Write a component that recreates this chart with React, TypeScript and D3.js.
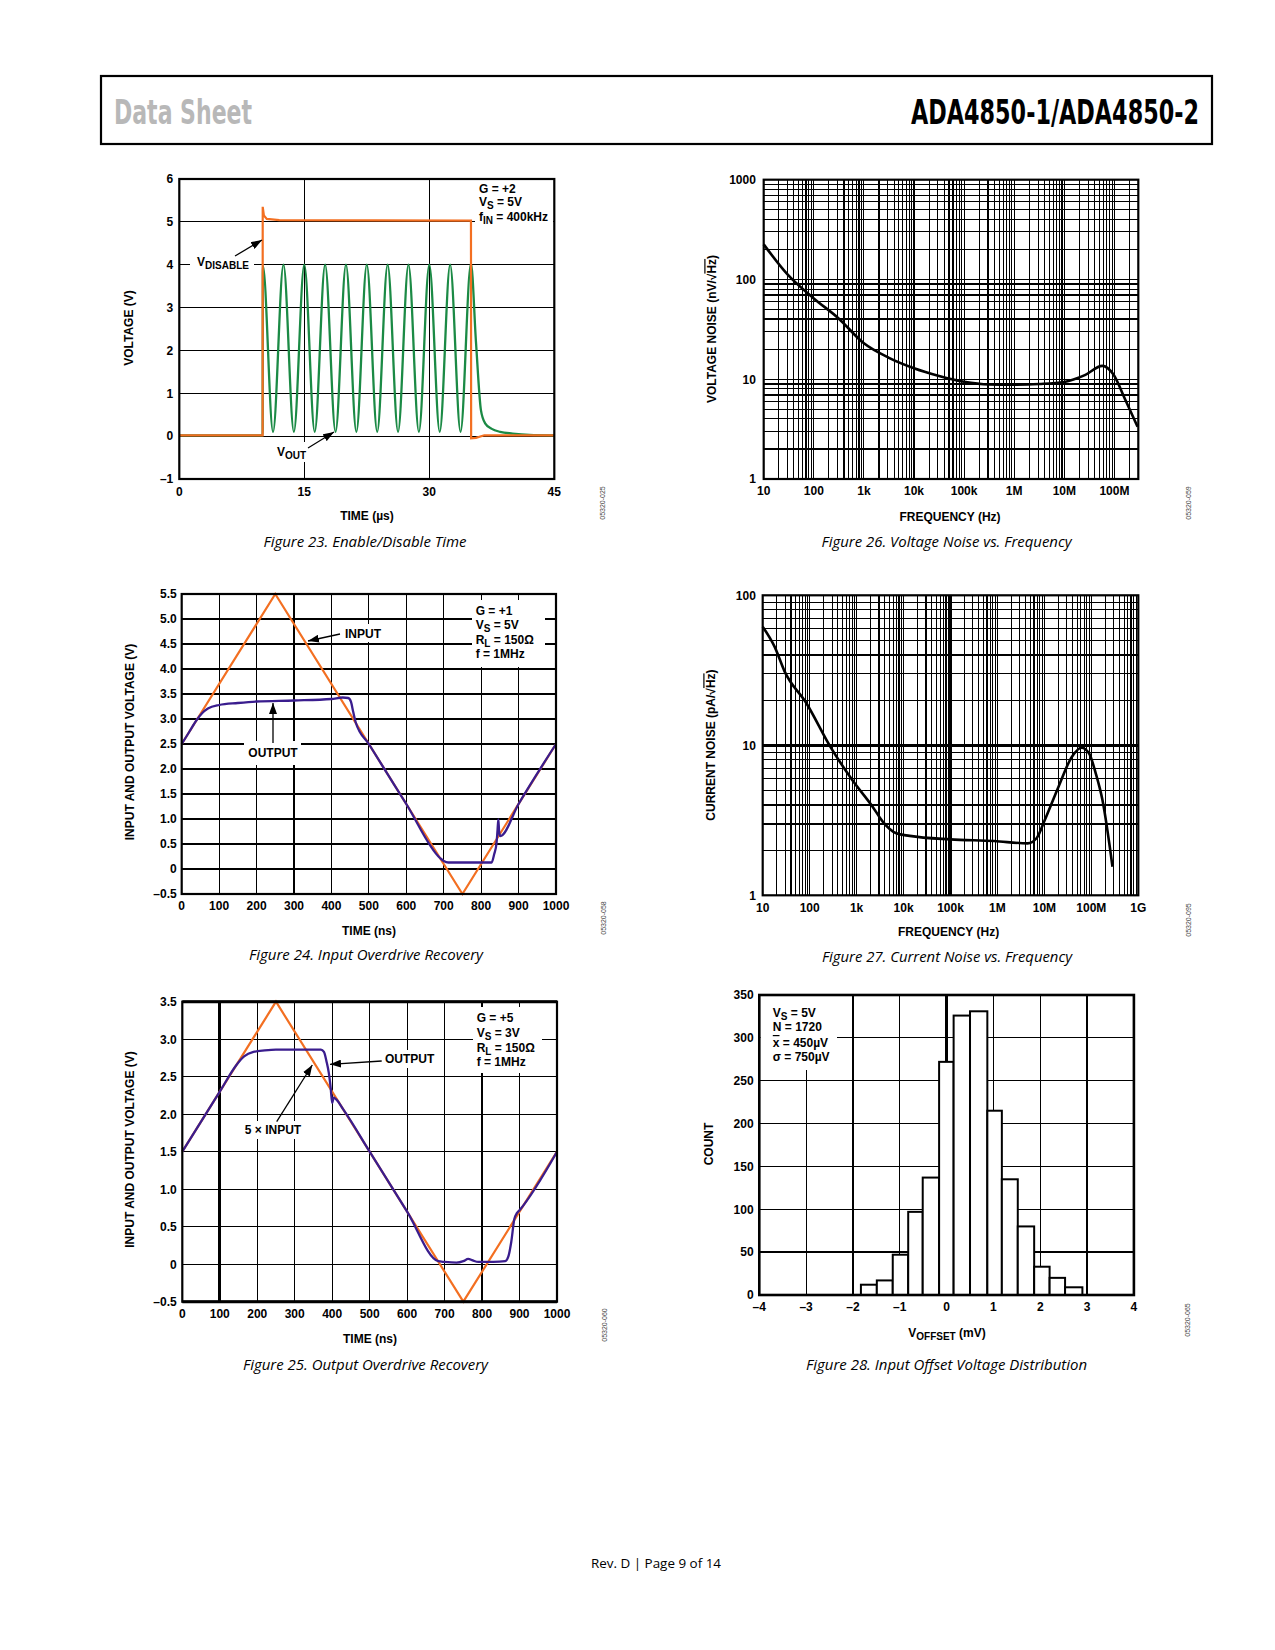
import * as d3 from "d3";
import { useLayoutEffect, useRef, useState } from "react";
import type { ReactNode } from "react";

type Pt = [number, number];
type Sc = d3.ScaleLinear<number, number> | d3.ScaleLogarithmic<number, number>;

const FONT = "'Liberation Sans', Arial, Helvetica, sans-serif";
const CAP_FONT = "'Open Sans', 'Noto Sans', sans-serif";
const ORANGE = "#f36f21";
const GREEN = "#1b8a45";
const PURPLE = "#3a1d8e";

// Figure 23 - enable/disable time
const f23VoltTicks = [-1, 0, 1, 2, 3, 4, 5, 6];
const f23VoltLabels = ["–1", "0", "1", "2", "3", "4", "5", "6"];
const f23TimeTicks = [0, 15, 30, 45];
const f23TimeGrid = [15, 30];
const f23Disable: Pt[] = [
  [0, 0.02], [10, 0.02], [10.01, 5.35], [10.15, 5.15], [10.5, 5.07], [12, 5.04],
  [35, 5.03], [35.02, -0.05], [35.6, -0.04], [36.6, 0.02], [45, 0.02],
];
const f23Vout: Pt[] = [
  [0, 0.02], [10, 0.02], [10.03, 3.98], [11.25, 0.1], [12.5, 4.0], [13.75, 0.1],
  [15, 4.0], [16.25, 0.1], [17.5, 4.0], [18.75, 0.1], [20, 4.0], [21.25, 0.1],
  [22.5, 4.0], [23.75, 0.1], [25, 4.0], [26.25, 0.1], [27.5, 4.0], [28.75, 0.1],
  [30, 4.0], [31.25, 0.1], [32.5, 4.0], [33.75, 0.1], [35, 4.03], [35.6, 2.2],
  [36.2, 0.6], [36.7, 0.3], [37.5, 0.17], [38.5, 0.1], [40, 0.06], [42, 0.03], [45, 0.02],
];

// Figure 24 - input overdrive recovery
const f24VoltTicks = [-0.5, 0, 0.5, 1, 1.5, 2, 2.5, 3, 3.5, 4, 4.5, 5, 5.5];
const f24VoltLabels = ["–0.5", "0", "0.5", "1.0", "1.5", "2.0", "2.5", "3.0", "3.5", "4.0", "4.5", "5.0", "5.5"];
const f24TimeTicks = [0, 100, 200, 300, 400, 500, 600, 700, 800, 900, 1000];
const f24Input: Pt[] = [[0, 2.5], [250, 5.5], [750, -0.5], [1000, 2.5]];
const f24Output: Pt[] = [
  [0, 2.5], [20, 2.74], [40, 2.98], [55, 3.12], [70, 3.21], [100, 3.28], [150, 3.32],
  [200, 3.35], [300, 3.37], [400, 3.4], [430, 3.43], [445, 3.42], [452, 3.35], [458, 3.15],
  [465, 2.93], [500, 2.5], [600, 1.3], [690, 0.22], [700, 0.16], [712, 0.13], [760, 0.13],
  [828, 0.13], [835, 0.3], [841, 0.51], [844, 0.8], [846, 0.99], [848, 0.75], [851, 0.66],
  [900, 1.3], [1000, 2.5],
];

// Figure 25 - output overdrive recovery
const f25VoltTicks = [-0.5, 0, 0.5, 1, 1.5, 2, 2.5, 3, 3.5];
const f25VoltLabels = ["–0.5", "0", "0.5", "1.0", "1.5", "2.0", "2.5", "3.0", "3.5"];
const f25TimeTicks = [0, 100, 200, 300, 400, 500, 600, 700, 800, 900, 1000];
const f25Input: Pt[] = [[0, 1.5], [250, 3.5], [750, -0.5], [1000, 1.5]];
const f25Output: Pt[] = [
  [0, 1.5], [50, 1.9], [100, 2.3], [145, 2.66], [165, 2.77], [190, 2.83], [220, 2.85],
  [250, 2.86], [300, 2.86], [370, 2.86], [378, 2.83], [385, 2.7], [391, 2.55], [396, 2.35],
  [400, 2.15], [404, 2.22], [410, 2.2], [430, 2.06], [500, 1.5], [600, 0.7], [683, 0.04],
  [700, 0.03], [732, 0.02], [750, 0.04], [763, 0.07], [775, 0.05], [790, 0.03], [830, 0.03],
  [862, 0.04], [870, 0.1], [878, 0.3], [886, 0.6], [893, 0.68], [900, 0.72], [1000, 1.5],
];

// Figure 26 - voltage noise
const f26FreqTicks = [10, 100, 1e3, 1e4, 1e5, 1e6, 1e7, 1e8];
const f26FreqLabels = ["10", "100", "1k", "10k", "100k", "1M", "10M", "100M"];
const f26NoiseTicks = [1, 10, 100, 1000];
const f26Freq = [10, 30.5, 100, 313, 1e3, 3160, 1e4, 3.16e4, 1e5, 3.16e5, 1e6, 3.16e6, 1e7, 2.57e7, 5.75e7, 9.5e7, 1.66e8, 2.9e8];
const f26Noise = [225, 111, 64.6, 40.7, 22.9, 16.4, 12.9, 10.8, 9.44, 8.87, 8.8, 8.95, 9.4, 11.0, 13.6, 11.2, 6.2, 3.34];

// Figure 27 - current noise
const f27FreqTicks = [10, 100, 1e3, 1e4, 1e5, 1e6, 1e7, 1e8, 1e9];
const f27FreqLabels = ["10", "100", "1k", "10k", "100k", "1M", "10M", "100M", "1G"];
const f27NoiseTicks = [1, 10, 100];
const f27Freq = [10, 17.9, 29.4, 86, 275, 809, 2190, 3600, 7000, 13500, 99000, 852000, 4.4e6, 6.8e6, 1.02e7, 2e7, 3.86e7, 6.17e7, 8.9e7, 1.24e8, 1.72e8, 2.82e8];
const f27Noise = [61.8, 45.5, 31.0, 19.0, 9.8, 5.87, 3.9, 3.1, 2.59, 2.49, 2.36, 2.3, 2.22, 2.4, 3.18, 5.3, 8.4, 9.64, 8.85, 6.5, 4.33, 1.55];

// Figure 28 - offset histogram
const f28Edges = [-1.83, -1.49, -1.15, -0.82, -0.51, -0.16, 0.15, 0.5, 0.87, 1.18, 1.52, 1.87, 2.2, 2.53, 2.9];
const f28Counts = [12, 17, 47, 97, 137, 272, 326, 331, 215, 135, 80, 33, 20, 9];
const f28XTicks = [-4, -3, -2, -1, 0, 1, 2, 3, 4];
const f28XLabels = ["–4", "–3", "–2", "–1", "0", "1", "2", "3", "4"];
const f28YTicks = [0, 50, 100, 150, 200, 250, 300, 350];

function Grid({
  x, y, xs, ys, boldX = [], boldY = [], thin = 1.2, bold = 2.2,
}: {
  x: Sc; y: Sc; xs: number[]; ys: number[];
  boldX?: number[]; boldY?: number[]; thin?: number; bold?: number;
}) {
  const [xa, xb] = x.range();
  const [ya, yb] = y.range();
  const isBold = (list: number[], v: number) => list.some((b) => Math.abs(b - v) < 1e-9 * Math.abs(v) + 1e-9);
  return (
    <g stroke="#000" shapeRendering="crispEdges">
      {xs.map((v) => (
        <line key={`gx${v}`} x1={x(v)} x2={x(v)} y1={ya} y2={yb} strokeWidth={isBold(boldX, v) ? bold : thin} />
      ))}
      {ys.map((v) => (
        <line key={`gy${v}`} x1={xa} x2={xb} y1={y(v)} y2={y(v)} strokeWidth={isBold(boldY, v) ? bold : thin} />
      ))}
    </g>
  );
}

function Border({ x, y, w = 2.2 }: { x: Sc; y: Sc; w?: number }) {
  const [xa, xb] = x.range();
  const [ya, yb] = y.range();
  return <rect x={xa} y={yb} width={xb - xa} height={ya - yb} fill="none" stroke="#000" strokeWidth={w} />;
}

function YLabels({ y, ticks, labels, right }: { y: Sc; ticks: number[]; labels: string[]; right: number }) {
  return (
    <g fontFamily={FONT} fontWeight={700} fontSize={12} textAnchor="end">
      {ticks.map((t, i) => (
        <text key={t} x={right} y={y(t) + 4.3}>{labels[i]}</text>
      ))}
    </g>
  );
}

function XLabels({ x, ticks, labels, cy }: { x: Sc; ticks: number[]; labels: string[]; cy: number }) {
  return (
    <g fontFamily={FONT} fontWeight={700} fontSize={12} textAnchor="middle">
      {ticks.map((t, i) => (
        <text key={t} x={x(t)} y={cy + 4.3}>{labels[i]}</text>
      ))}
    </g>
  );
}

function YTitle({ cx, cy, children }: { cx: number; cy: number; children: ReactNode }) {
  return (
    <text transform={`translate(${cx + 4.3},${cy}) rotate(-90)`} textAnchor="middle"
      fontFamily={FONT} fontWeight={700} fontSize={12}>{children}</text>
  );
}

function XTitle({ cx, cy, children }: { cx: number; cy: number; children: ReactNode }) {
  return (
    <text x={cx} y={cy + 4.3} textAnchor="middle" fontFamily={FONT} fontWeight={700} fontSize={12}>{children}</text>
  );
}

function Caption({ cx, cy, w, children }: { cx: number; cy: number; w: number; children: string }) {
  return (
    <text x={cx} y={cy + 5} textAnchor="middle" fontFamily={CAP_FONT} fontStyle="italic"
      fontSize={14.5} textLength={w} lengthAdjust="spacingAndGlyphs">{children}</text>
  );
}

function Code({ cx, cy, label }: { cx: number; cy: number; label: string }) {
  return (
    <text transform={`translate(${cx + 2.5},${cy}) rotate(-90)`} textAnchor="middle"
      fontFamily={FONT} fontSize={7} fill="#444">{label}</text>
  );
}

function Sub({ x, y, a, s, b = "" }: { x: number; y: number; a: string; s: string; b?: string }) {
  return (
    <text x={x} y={y} fontFamily={FONT} fontWeight={700} fontSize={12}>
      {a}<tspan dy={3} fontSize={10}>{s}</tspan><tspan dy={-3}>{b}</tspan>
    </text>
  );
}

function Plain({ x, y, children, anchor = "start" }: { x: number; y: number; children: ReactNode; anchor?: string }) {
  return (
    <text x={x} y={y} fontFamily={FONT} fontWeight={700} fontSize={12} textAnchor={anchor}>{children}</text>
  );
}

function Arrow({ x1, y1, x2, y2 }: { x1: number; y1: number; x2: number; y2: number }) {
  return <line x1={x1} y1={y1} x2={x2} y2={y2} stroke="#000" strokeWidth={1.3} markerEnd="url(#ah)" />;
}

// squeezes a heading to a given width with a horizontal scale instead of textLength
function FitText({ x, y, w, fill, children }: { x: number; y: number; w: number; fill: string; children: string }) {
  const ref = useRef<SVGTextElement>(null);
  const [sx, setSx] = useState(0.75);
  useLayoutEffect(() => {
    const el = ref.current;
    if (!el) return;
    const len = el.getComputedTextLength();
    if (len > 0) setSx(w / len);
  }, [w, children]);
  return (
    <text ref={ref} transform={`translate(${x},${y}) scale(${sx},1)`}
      fontFamily="'Liberation Sans Narrow', 'DejaVu Sans Condensed', 'Liberation Sans', sans-serif"
      fontWeight={700} fontSize={34} fill={fill}>{children}</text>
  );
}

function Fig23() {
  const x = d3.scaleLinear().domain([0, 45]).range([179.3, 554.3]);
  const y = d3.scaleLinear().domain([-1, 6]).range([479, 179]);
  const straight = d3.line<Pt>().x((d) => x(d[0])).y((d) => y(d[1]));
  const smooth = d3.line<Pt>().x((d) => x(d[0])).y((d) => y(d[1])).curve(d3.curveMonotoneX);
  return (
    <g>
      <Grid x={x} y={y} xs={f23TimeGrid} ys={f23VoltTicks} />
      <rect x={475} y={181} width={78} height={45} fill="#fff" />
      <rect x={190} y={257} width={64} height={15} fill="#fff" />
      <rect x={275} y={442} width={36} height={20} fill="#fff" />
      <path d={smooth(f23Vout) ?? ""} fill="none" stroke={GREEN} strokeWidth={2.3} />
      <path d={straight(f23Disable) ?? ""} fill="none" stroke={ORANGE} strokeWidth={2.2} />
      <Border x={x} y={y} />
      <Plain x={479} y={192.6}>G = +2</Plain>
      <Sub x={479} y={206} a="V" s="S" b=" = 5V" />
      <Sub x={479} y={221} a="f" s="IN" b=" = 400kHz" />
      <Sub x={197} y={266} a="V" s="DISABLE" />
      <Arrow x1={235} y1={256} x2={262} y2={240} />
      <Sub x={277} y={456} a="V" s="OUT" />
      <Arrow x1={308} y1={448} x2={334} y2={432} />
      <YLabels y={y} ticks={f23VoltTicks} labels={f23VoltLabels} right={173.3} />
      <XLabels x={x} ticks={f23TimeTicks} labels={f23TimeTicks.map(String)} cy={492} />
      <YTitle cx={129} cy={328}>VOLTAGE (V)</YTitle>
      <XTitle cx={367} cy={516}>TIME (µs)</XTitle>
      <Caption cx={365} cy={541.7} w={203}>Figure 23. Enable/Disable Time</Caption>
      <Code cx={602} cy={503} label="05320-025" />
    </g>
  );
}

function Fig24() {
  const x = d3.scaleLinear().domain([0, 1000]).range([181.7, 556]);
  const y = d3.scaleLinear().domain([-0.5, 5.5]).range([894, 594]);
  const straight = d3.line<Pt>().x((d) => x(d[0])).y((d) => y(d[1]));
  const smooth = d3.line<Pt>().x((d) => x(d[0])).y((d) => y(d[1])).curve(d3.curveMonotoneX);
  return (
    <g>
      <Grid x={x} y={y} xs={f24TimeTicks} ys={f24VoltTicks} boldY={[0, 0.5, 1, 1.5, 2]} />
      <rect x={472} y={600} width={73} height={67} fill="#fff" />
      <rect x={342} y={624} width={44} height={18} fill="#fff" />
      <rect x={244} y={741} width={57} height={24} fill="#fff" />
      <path d={straight(f24Input) ?? ""} fill="none" stroke={ORANGE} strokeWidth={2.2} />
      <path d={smooth(f24Output) ?? ""} fill="none" stroke={PURPLE} strokeWidth={2.3} />
      <Border x={x} y={y} />
      <Plain x={475.7} y={615}>G = +1</Plain>
      <Sub x={475.7} y={629.3} a="V" s="S" b=" = 5V" />
      <Sub x={475.7} y={644.3} a="R" s="L" b=" = 150Ω" />
      <Plain x={475.7} y={657.6}>f = 1MHz</Plain>
      <Plain x={345} y={637.6}>INPUT</Plain>
      <Arrow x1={340} y1={634} x2={308} y2={641} />
      <Plain x={273} y={757.3} anchor="middle">OUTPUT</Plain>
      <Arrow x1={273} y1={743} x2={273} y2={703} />
      <YLabels y={y} ticks={f24VoltTicks} labels={f24VoltLabels} right={176.7} />
      <XLabels x={x} ticks={f24TimeTicks} labels={f24TimeTicks.map(String)} cy={906} />
      <YTitle cx={130} cy={742}>INPUT AND OUTPUT VOLTAGE (V)</YTitle>
      <XTitle cx={369} cy={930.7}>TIME (ns)</XTitle>
      <Caption cx={366} cy={955} w={234}>Figure 24. Input Overdrive Recovery</Caption>
      <Code cx={603} cy={918} label="05320-058" />
    </g>
  );
}

function Fig25() {
  const x = d3.scaleLinear().domain([0, 1000]).range([182.3, 557]);
  const y = d3.scaleLinear().domain([-0.5, 3.5]).range([1301.7, 1001.7]);
  const straight = d3.line<Pt>().x((d) => x(d[0])).y((d) => y(d[1]));
  const smooth = d3.line<Pt>().x((d) => x(d[0])).y((d) => y(d[1])).curve(d3.curveMonotoneX);
  return (
    <g>
      <Grid x={x} y={y} xs={f25TimeTicks} ys={f25VoltTicks} boldX={[100]} bold={2.6} />
      <rect x={473} y={1007} width={69} height={66} fill="#fff" />
      <rect x={382} y={1050} width={56} height={18} fill="#fff" />
      <rect x={242} y={1121} width={63} height={18} fill="#fff" />
      <path d={straight(f25Input) ?? ""} fill="none" stroke={ORANGE} strokeWidth={2.2} />
      <path d={smooth(f25Output) ?? ""} fill="none" stroke={PURPLE} strokeWidth={2.3} />
      <Border x={x} y={y} />
      <line x1={x(0)} x2={x(1000)} y1={y(3.5)} y2={y(3.5)} stroke="#000" strokeWidth={3} />
      <line x1={x(0)} x2={x(1000)} y1={y(-0.5)} y2={y(-0.5)} stroke="#000" strokeWidth={3} />
      <Plain x={476.7} y={1022.3}>G = +5</Plain>
      <Sub x={476.7} y={1037.3} a="V" s="S" b=" = 3V" />
      <Sub x={476.7} y={1052.3} a="R" s="L" b=" = 150Ω" />
      <Plain x={476.7} y={1066.3}>f = 1MHz</Plain>
      <Plain x={385} y={1063.3}>OUTPUT</Plain>
      <Arrow x1={381.7} y1={1061} x2={330} y2={1064.3} />
      <Plain x={273} y={1134.3} anchor="middle">5 × INPUT</Plain>
      <Arrow x1={276.7} y1={1121.7} x2={312.3} y2={1065} />
      <YLabels y={y} ticks={f25VoltTicks} labels={f25VoltLabels} right={176.7} />
      <XLabels x={x} ticks={f25TimeTicks} labels={f25TimeTicks.map(String)} cy={1314} />
      <YTitle cx={130} cy={1149.5}>INPUT AND OUTPUT VOLTAGE (V)</YTitle>
      <XTitle cx={370} cy={1339}>TIME (ns)</XTitle>
      <Caption cx={365.5} cy={1365} w={245}>Figure 25. Output Overdrive Recovery</Caption>
      <Code cx={604} cy={1325} label="05320-060" />
    </g>
  );
}

function logGrid(s: d3.ScaleLogarithmic<number, number>) {
  const [a, b] = s.domain();
  return s.ticks().filter((v) => v > a * 1.0001 && v < b * 0.9999);
}

function Fig26() {
  const x = d3.scaleLog().domain([10, 3e8]).range([763.7, 1138.3]);
  const y = d3.scaleLog().domain([1, 1000]).range([479, 179.7]);
  const pts: Pt[] = f26Freq.map((f, i) => [f, f26Noise[i]]);
  const curve = d3.line<Pt>().x((d) => x(d[0])).y((d) => y(d[1])).curve(d3.curveMonotoneX);
  return (
    <g>
      <Grid x={x} y={y} xs={logGrid(x)} ys={logGrid(y)} boldY={[2, 7, 9, 40, 70]} thin={1.1} bold={2} />
      <path d={curve(pts) ?? ""} fill="none" stroke="#000" strokeWidth={2.6} />
      <Border x={x} y={y} />
      <YLabels y={y} ticks={f26NoiseTicks} labels={f26NoiseTicks.map(String)} right={755.9} />
      <XLabels x={x} ticks={f26FreqTicks} labels={f26FreqLabels} cy={491} />
      <YTitle cx={712} cy={329}>
        VOLTAGE NOISE (nV/√<tspan style={{ textDecoration: "overline" }}>Hz</tspan>)
      </YTitle>
      <XTitle cx={950} cy={517}>FREQUENCY (Hz)</XTitle>
      <Caption cx={946.6} cy={541.7} w={250}>Figure 26. Voltage Noise vs. Frequency</Caption>
      <Code cx={1188} cy={503} label="05320-059" />
    </g>
  );
}

function Fig27() {
  const x = d3.scaleLog().domain([10, 1e9]).range([762.7, 1138.3]);
  const y = d3.scaleLog().domain([1, 100]).range([895.3, 595.3]);
  const pts: Pt[] = f27Freq.map((f, i) => [f, f27Noise[i]]);
  const curve = d3.line<Pt>().x((d) => x(d[0])).y((d) => y(d[1])).curve(d3.curveMonotoneX);
  return (
    <g>
      <Grid x={x} y={y} xs={logGrid(x)} ys={logGrid(y)} boldX={[1e5]} boldY={[3, 10]} thin={1.1} bold={2.4} />
      <path d={curve(pts) ?? ""} fill="none" stroke="#000" strokeWidth={2.6} />
      <Border x={x} y={y} />
      <YLabels y={y} ticks={f27NoiseTicks} labels={f27NoiseTicks.map(String)} right={755.9} />
      <XLabels x={x} ticks={f27FreqTicks} labels={f27FreqLabels} cy={908} />
      <YTitle cx={711} cy={745}>
        CURRENT NOISE (pA/√<tspan style={{ textDecoration: "overline" }}>Hz</tspan>)
      </YTitle>
      <XTitle cx={948.6} cy={931.7}>FREQUENCY (Hz)</XTitle>
      <Caption cx={947} cy={957} w={250}>Figure 27. Current Noise vs. Frequency</Caption>
      <Code cx={1188} cy={920} label="05320-095" />
    </g>
  );
}

function Fig28() {
  const x = d3.scaleLinear().domain([-4, 4]).range([759.3, 1133.9]);
  const y = d3.scaleLinear().domain([0, 350]).range([1295, 995]);
  return (
    <g>
      <Grid x={x} y={y} xs={f28XTicks} ys={f28YTicks} boldX={[0]} boldY={[50]} thin={1.2} bold={2.6} />
      <rect x={760.5} y={996} width={76.5} height={74} fill="#fff" />
      {f28Counts.map((c, i) => (
        <rect key={i} x={x(f28Edges[i])} width={x(f28Edges[i + 1]) - x(f28Edges[i])}
          y={y(c)} height={y(0) - y(c)} fill="#fff" stroke="#000" strokeWidth={2} />
      ))}
      <Border x={x} y={y} w={2.6} />
      <Sub x={772.8} y={1017.3} a="V" s="S" b=" = 5V" />
      <Plain x={772.8} y={1031.3}>N = 1720</Plain>
      <Plain x={772.8} y={1047}>
        <tspan style={{ textDecoration: "overline" }}>x</tspan> = 450µV
      </Plain>
      <Plain x={772.8} y={1061.3}>σ = 750µV</Plain>
      <YLabels y={y} ticks={f28YTicks} labels={f28YTicks.map(String)} right={753.6} />
      <XLabels x={x} ticks={f28XTicks} labels={f28XLabels} cy={1306.7} />
      <YTitle cx={708.6} cy={1144}>COUNT</YTitle>
      <text x={947} y={1337.3} textAnchor="middle" fontFamily={FONT} fontWeight={700} fontSize={12}>
        V<tspan dy={3} fontSize={10}>OFFSET</tspan><tspan dy={-3}> (mV)</tspan>
      </text>
      <Caption cx={946.6} cy={1365} w={281}>Figure 28. Input Offset Voltage Distribution</Caption>
      <Code cx={1187} cy={1320} label="05320-065" />
    </g>
  );
}

export default function App() {
  return (
    <div style={{ position: "absolute", left: 0, top: 0 }}>
      <svg width={1275} height={1650} viewBox="0 0 1275 1650" style={{ display: "block", background: "#fff" }}>
        <defs>
          <marker id="ah" viewBox="0 0 11 8" refX={11} refY={4} markerWidth={11} markerHeight={8}
            markerUnits="userSpaceOnUse" orient="auto">
            <path d="M0,0 L11,4 L0,8 z" fill="#000" />
          </marker>
        </defs>
        <rect x={101} y={76} width={1111} height={68} fill="none" stroke="#000" strokeWidth={2.2} />
        <FitText x={114} y={123.5} w={138} fill="#b8b8b8">Data Sheet</FitText>
        <FitText x={911} y={123.5} w={288} fill="#000">ADA4850-1/ADA4850-2</FitText>
        <Fig23 />
        <Fig26 />
        <Fig24 />
        <Fig27 />
        <Fig25 />
        <Fig28 />
        <text x={656} y={1568} textAnchor="middle" fontFamily={CAP_FONT} fontSize={12.5}
          textLength={130} lengthAdjust="spacingAndGlyphs">Rev. D | Page 9 of 14</text>
      </svg>
    </div>
  );
}
